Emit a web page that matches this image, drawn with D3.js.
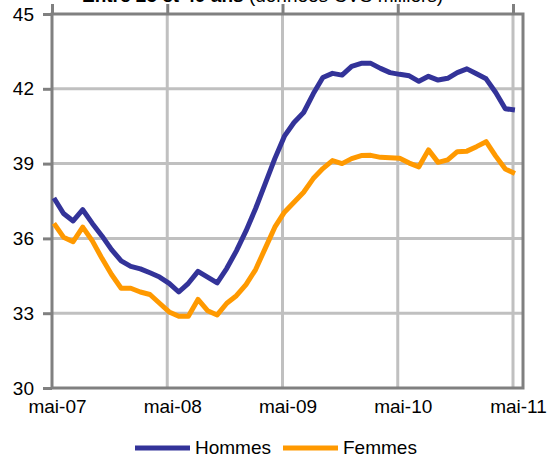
<!DOCTYPE html>
<html><head><meta charset="utf-8">
<script src="https://cdn.jsdelivr.net/npm/d3@7"></script>
<style>
html,body{margin:0;padding:0;background:#fff;overflow:hidden;}
svg{display:block;font-family:"Liberation Sans",Arial,sans-serif;}
</style></head><body>
<svg id="c" width="551" height="457"></svg>
<script>
// Monthly data, mai-07 .. mai-11 (thousands, CVS)
const months = d3.range(49);
const hommes = [37.62,37.0,36.7,37.15,36.6,36.1,35.55,35.1,34.88,34.78,34.62,34.45,34.2,33.85,34.2,34.68,34.45,34.22,34.8,35.5,36.3,37.2,38.2,39.2,40.1,40.65,41.05,41.8,42.45,42.62,42.55,42.9,43.02,43.02,42.82,42.65,42.58,42.52,42.3,42.5,42.35,42.42,42.65,42.8,42.6,42.4,41.85,41.2,41.15];
const femmes = [36.6,36.05,35.87,36.45,35.9,35.2,34.55,34.0,34.0,33.85,33.75,33.4,33.05,32.88,32.88,33.55,33.1,32.93,33.4,33.7,34.15,34.75,35.6,36.45,37.05,37.45,37.85,38.4,38.8,39.12,39.0,39.2,39.32,39.33,39.25,39.23,39.21,39.02,38.87,39.55,39.05,39.15,39.48,39.5,39.68,39.88,39.3,38.78,38.6];
const xTickMonths = [0,12,24,36,48];
const xTickLabels = ["mai-07","mai-08","mai-09","mai-10","mai-11"];
const yTicks = [30,33,36,39,42,45];
const seriesNames = ["Hommes","Femmes"];
const seriesColors = ["#333399","#FF9900"];

const L=52, R=523, T=14, B=388;
const x = d3.scaleLinear().domain([0,48]).range([L,513]);
const y = d3.scaleLinear().domain([30,45]).range([B,T]);
const svg = d3.select("#c");
const grey="#808080", light="#c0c0c0";

// title (clipped at top, as in the reference)
const title = svg.append("text").attr("x",82).attr("y",2).attr("font-size",19).attr("fill","#000");
title.append("tspan").attr("font-weight","bold").text("Entre 25 et 49 ans ");
title.append("tspan").text("(données CVS milliers)");

// gridlines
svg.append("g").selectAll("line").data(yTicks.filter(v=>v>30&&v<45)).join("line")
  .attr("x1",L).attr("x2",R).attr("y1",d=>y(d)).attr("y2",d=>y(d))
  .attr("stroke",light).attr("stroke-width",3);
svg.append("g").selectAll("line").data(xTickMonths.filter(v=>v>0)).join("line")
  .attr("x1",d=>x(d)).attr("x2",d=>x(d)).attr("y1",T).attr("y2",B)
  .attr("stroke",light).attr("stroke-width",3);

// frame
svg.append("rect").attr("x",L).attr("y",T).attr("width",R-L).attr("height",B-T)
  .attr("fill","none").attr("stroke",grey).attr("stroke-width",3);

// y axis
const yAxis = svg.append("g").attr("transform",`translate(${L},0)`)
  .call(d3.axisLeft(y).tickValues(yTicks).tickFormat(d3.format("d")).tickSize(9).tickPadding(9));
yAxis.select(".domain").remove();
yAxis.selectAll(".tick line").attr("stroke",grey).attr("stroke-width",3);
yAxis.selectAll("text").attr("font-size",19).attr("fill","#000").attr("font-family","Liberation Sans, Arial, sans-serif");

// x ticks (drawn upward above the top)
const xTop = svg.append("g").attr("transform",`translate(0,${T})`)
  .call(d3.axisTop(x).tickValues(xTickMonths).tickSize(10).tickFormat(""));
xTop.select(".domain").remove();
xTop.selectAll(".tick line").attr("stroke",grey).attr("stroke-width",3);

// x labels
const xBot = svg.append("g").attr("transform",`translate(5,${B})`)
  .call(d3.axisBottom(x).tickValues(xTickMonths).tickSize(0).tickPadding(12).tickFormat((d,i)=>xTickLabels[i]));
xBot.select(".domain").remove();
xBot.selectAll("text").attr("font-size",19).attr("fill","#000").attr("font-family","Liberation Sans, Arial, sans-serif");

// lines
const px = i => x(i+0.2);
const line = d3.line().x((d,i)=>px(i)).y(d=>y(d));
[hommes,femmes].forEach((s,k)=>{
  svg.append("path").datum(s).attr("d",line).attr("fill","none")
    .attr("stroke",seriesColors[k]).attr("stroke-width",5).attr("stroke-linejoin","round");
});

// legend
const lg = svg.append("g");
const legX = [135,283];
seriesNames.forEach((n,k)=>{
  lg.append("line").attr("x1",legX[k]).attr("x2",legX[k]+55).attr("y1",448).attr("y2",448)
    .attr("stroke",seriesColors[k]).attr("stroke-width",5);
  lg.append("text").attr("x",legX[k]+60).attr("y",454).attr("font-size",19).attr("fill","#000").text(n);
});
</script></body></html>
